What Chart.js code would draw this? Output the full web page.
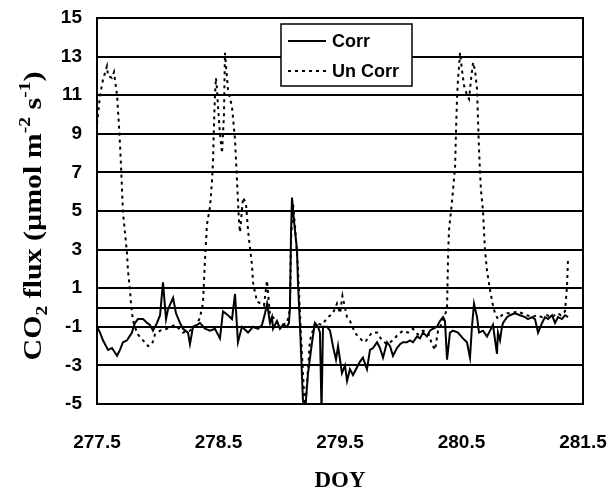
<!DOCTYPE html>
<html>
<head>
<meta charset="utf-8">
<script src="https://cdn.jsdelivr.net/npm/chart.js@4.4.0/dist/chart.umd.min.js"></script>
<style>
  html, body { margin: 0; padding: 0; background: #fff; }
  #wrap { width: 611px; height: 490px; }
</style>
</head>
<body>
<div id="wrap"><canvas id="fluxChart" width="611" height="490"></canvas></div>
<script>
// Corrected vs uncorrected CO2 flux, DOY 277.5 - 281.5

const seriesLabels = ['Corr', 'Un Corr'];

const xTicks = [277.5, 278.5, 279.5, 280.5, 281.5];
const yTicks = [-5, -3, -1, 1, 3, 5, 7, 9, 11, 13, 15];

// corrected flux
const corrDoy = [
  277.500, 277.525, 277.549, 277.591, 277.623, 277.665, 277.689, 277.714, 277.747, 277.788,
  277.796, 277.813, 277.837, 277.879, 277.912, 277.936, 277.961, 277.994, 278.019, 278.043,
  278.068, 278.084, 278.126, 278.150, 278.183, 278.208, 278.249, 278.265, 278.290, 278.323,
  278.348, 278.389, 278.430, 278.471, 278.512, 278.537, 278.578, 278.611, 278.636, 278.660,
  278.693, 278.743, 278.784, 278.825, 278.858, 278.883, 278.900, 278.924, 278.940, 278.949,
  278.981, 279.006, 279.031, 279.064, 279.080, 279.088, 279.097, 279.105, 279.121, 279.146,
  279.154, 279.171, 279.195, 279.212, 279.237, 279.270, 279.294, 279.319, 279.335, 279.348,
  279.360, 279.393, 279.418, 279.442, 279.467, 279.484, 279.516, 279.541, 279.558, 279.582,
  279.607, 279.640, 279.665, 279.689, 279.722, 279.747, 279.772, 279.805, 279.829, 279.854,
  279.887, 279.912, 279.936, 279.969, 279.994, 280.019, 280.051, 280.076, 280.101, 280.134,
  280.158, 280.183, 280.216, 280.241, 280.265, 280.298, 280.323, 280.348, 280.364, 280.381,
  280.405, 280.430, 280.471, 280.512, 280.545, 280.570, 280.586, 280.603, 280.628, 280.644,
  280.677, 280.710, 280.735, 280.759, 280.792, 280.800, 280.817, 280.833, 280.842, 280.874,
  280.899, 280.940, 280.981, 281.023, 281.047, 281.080, 281.105, 281.130, 281.163, 281.187,
  281.212, 281.245, 281.270, 281.294, 281.327, 281.352, 281.377
];
const corrFlux = [
  -1.0, -1.3, -1.7, -2.2, -2.1, -2.5, -2.2, -1.8, -1.7, -1.3,
  -1.1, -0.8, -0.6, -0.6, -0.8, -0.9, -1.2, -0.8, -0.4, 1.3,
  -0.6, -0.1, 0.5, -0.3, -0.8, -1.1, -1.3, -1.9, -1.0, -0.9,
  -0.8, -1.1, -1.2, -1.1, -1.6, -0.2, -0.4, -0.6, 0.7, -1.8,
  -1.0, -1.3, -1.0, -1.1, -0.9, -0.3, 0.2, -0.8, -0.5, -1.1,
  -0.7, -1.1, -0.9, -1.0, -0.8, 0.0, 3.9, 5.7, 4.5, 3.0,
  1.3, -1.0, -4.8, -5.4, -3.4, -1.8, -0.8, -1.0, -1.3, -5.4,
  -1.0, -1.0, -1.2, -2.0, -2.7, -2.0, -3.4, -3.0, -3.8, -3.2,
  -3.5, -3.1, -2.8, -2.6, -3.2, -2.2, -2.1, -1.8, -2.1, -2.6,
  -1.8, -2.0, -2.5, -2.1, -1.9, -1.8, -1.8, -1.7, -1.8, -1.5,
  -1.6, -1.3, -1.5, -1.2, -1.1, -1.0, -0.7, -0.5, -0.7, -2.7,
  -1.3, -1.2, -1.3, -1.6, -1.8, -2.6, -1.0, 0.2, -0.5, -1.3,
  -1.2, -1.5, -1.2, -0.9, -2.4, -1.3, -1.7, -1.0, -0.8, -0.5,
  -0.4, -0.3, -0.4, -0.5, -0.6, -0.5, -0.6, -1.3, -0.8, -0.5,
  -0.6, -0.4, -0.8, -0.5, -0.6, -0.4, -0.5
];

// uncorrected flux
const uncorrDoy = [
  277.500, 277.525, 277.549, 277.582, 277.591, 277.623, 277.640, 277.648, 277.665, 277.673,
  277.681, 277.689, 277.698, 277.706, 277.714, 277.730, 277.747, 277.755, 277.772, 277.780,
  277.788, 277.805, 277.837, 277.879, 277.920, 277.953, 277.977, 278.019, 278.076, 278.142,
  278.208, 278.265, 278.323, 278.348, 278.372, 278.389, 278.405, 278.430, 278.447, 278.455,
  278.463, 278.471, 278.479, 278.488, 278.496, 278.512, 278.529, 278.545, 278.553, 278.562,
  278.578, 278.611, 278.636, 278.652, 278.669, 278.677, 278.702, 278.726, 278.743, 278.759,
  278.776, 278.784, 278.800, 278.817, 278.850, 278.874, 278.899, 278.924, 278.949, 278.981,
  279.023, 279.064, 279.088, 279.097, 279.113, 279.130, 279.154, 279.179, 279.212, 279.253,
  279.294, 279.352, 279.401, 279.442, 279.475, 279.500, 279.520, 279.558, 279.582, 279.623,
  279.648, 279.681, 279.706, 279.739, 279.763, 279.805, 279.846, 279.887, 279.936, 279.977,
  280.019, 280.060, 280.101, 280.142, 280.183, 280.224, 280.257, 280.282, 280.307, 280.340,
  280.364, 280.381, 280.389, 280.397, 280.422, 280.447, 280.455, 280.463, 280.471, 280.488,
  280.504, 280.521, 280.545, 280.562, 280.578, 280.595, 280.611, 280.628, 280.636, 280.644,
  280.652, 280.660, 280.677, 280.693, 280.710, 280.735, 280.759, 280.776, 280.800, 280.833,
  280.874, 280.916, 280.957, 280.998, 281.039, 281.080, 281.121, 281.163, 281.204, 281.245,
  281.286, 281.319, 281.352, 281.360, 281.369, 281.377
];
const uncorrFlux = [
  9.5, 11.0, 11.8, 12.5, 12.0, 11.9, 12.2, 11.8, 11.0, 10.2,
  9.4, 8.5, 7.3, 6.1, 4.9, 3.9, 2.8, 1.9, 0.9, 0.2,
  -0.3, -0.9, -1.4, -1.7, -2.0, -1.9, -1.4, -1.2, -1.1, -0.9,
  -1.3, -1.2, -0.9, -0.5, 0.2, 2.5, 4.3, 5.2, 6.6, 7.6,
  9.5, 11.0, 11.9, 11.3, 10.4, 9.0, 8.0, 10.0, 13.2, 12.5,
  11.3, 10.4, 8.7, 6.6, 4.4, 3.9, 5.7, 5.4, 4.0, 3.1,
  2.2, 1.3, 0.8, 0.3, 0.2, 0.1, 1.4, -0.4, -0.5, -0.8,
  -0.9, -0.8, -0.1, 3.5, 5.4, 4.2, 2.0, -1.5, -5.4, -1.7,
  -0.8, -0.9, -0.5, -0.3, 0.2, -0.3, 0.6, -0.5, -0.7, -1.3,
  -1.5, -1.7, -1.8, -1.5, -1.3, -1.3, -1.7, -1.9, -1.7, -1.4,
  -1.2, -1.3, -1.1, -1.4, -1.2, -1.3, -1.9, -2.2, -1.2, -0.8,
  -0.4, 0.0, 2.5, 4.0, 5.5, 7.3, 9.2, 10.8, 11.8, 13.2,
  12.3, 11.5, 11.0, 10.8, 11.8, 12.7, 12.3, 11.3, 9.7, 8.2,
  7.1, 6.1, 5.0, 3.0, 1.9, 0.9, 0.1, -0.3, -0.6, -0.4,
  -0.3, -0.3, -0.2, -0.3, -0.4, -0.5, -0.4, -0.5, -0.4, -0.5,
  -0.3, -0.4, -0.2, 0.4, 1.2, 2.6
];

function toPoints(xs, ys) {
  return xs.map((x, i) => ({ x: x, y: ys[i] }));
}

const tickFont = { family: "'Liberation Sans', Arial, sans-serif", size: 19, weight: 'bold' };
const titleFamily = "'Liberation Serif', 'Times New Roman', serif";

// box round the plot area
const frameBox = {
  id: 'frameBox',
  afterDraw(chart) {
    const a = chart.chartArea;
    const ctx = chart.ctx;
    ctx.save();
    ctx.strokeStyle = '#000';
    ctx.lineWidth = 2;
    ctx.strokeRect(a.left, a.top, a.right - a.left, a.bottom - a.top);
    ctx.restore();
  }
};

// legend box inside the plot, top middle
const boxLegend = {
  id: 'boxLegend',
  afterDraw(chart) {
    const a = chart.chartArea;
    const ctx = chart.ctx;
    const left = a.left + 184, top = a.top + 6, w = 131, h = 62;
    ctx.save();
    ctx.fillStyle = '#fff';
    ctx.fillRect(left, top, w, h);
    ctx.strokeStyle = '#000';
    ctx.lineWidth = 1.5;
    ctx.strokeRect(left, top, w, h);
    ctx.font = 'bold 18px ' + tickFont.family;
    ctx.textBaseline = 'middle';
    ctx.fillStyle = '#000';
    chart.data.datasets.forEach((ds, i) => {
      const y = top + 17 + i * 30;
      ctx.beginPath();
      ctx.setLineDash(ds.borderDash || []);
      ctx.lineWidth = ds.borderWidth;
      ctx.strokeStyle = ds.borderColor;
      ctx.moveTo(left + 7, y);
      ctx.lineTo(left + 45, y);
      ctx.stroke();
      ctx.setLineDash([]);
      ctx.fillText(ds.label, left + 51, y + 1);
    });
    ctx.restore();
  }
};

// rotated y title with subscript and superscripts
const yTitle = {
  id: 'yTitle',
  afterDraw(chart) {
    const a = chart.chartArea;
    const ctx = chart.ctx;
    const parts = [
      { t: 'CO' }, { t: '2', sub: true }, { t: ' flux (\u00b5mol m' },
      { t: '-2', sup: true }, { t: ' s' }, { t: '-1', sup: true }, { t: ')' }
    ];
    const big = 'bold 26px ' + titleFamily;
    const small = 'bold 17px ' + titleFamily;
    const stretch = 1.15;
    ctx.save();
    let total = 0;
    parts.forEach(p => {
      ctx.font = (p.sub || p.sup) ? small : big;
      p.w = ctx.measureText(p.t).width;
      total += p.w;
    });
    ctx.translate(41, 216);
    ctx.rotate(-Math.PI / 2);
    ctx.scale(stretch, 1);
    ctx.fillStyle = '#000';
    ctx.textBaseline = 'alphabetic';
    let x = -total / 2;
    parts.forEach(p => {
      ctx.font = (p.sub || p.sup) ? small : big;
      const dy = p.sub ? 6 : (p.sup ? -11 : 0);
      ctx.fillText(p.t, x, dy);
      x += p.w;
    });
    ctx.restore();
  }
};

new Chart(document.getElementById('fluxChart'), {
  type: 'line',
  data: {
    datasets: [
      {
        label: seriesLabels[0],
        data: toPoints(corrDoy, corrFlux),
        borderColor: '#000',
        borderWidth: 2,
        pointRadius: 0,
        tension: 0,
        fill: false
      },
      {
        label: seriesLabels[1],
        data: toPoints(uncorrDoy, uncorrFlux),
        borderColor: '#000',
        borderWidth: 2,
        borderDash: [3, 4],
        pointRadius: 0,
        tension: 0,
        fill: false
      }
    ]
  },
  options: {
    responsive: false,
    animation: false,
    layout: { padding: { top: 18, right: 28, left: 0, bottom: 0 } },
    plugins: {
      legend: { display: false },
      tooltip: { enabled: false }
    },
    scales: {
      x: {
        type: 'linear',
        min: xTicks[0],
        max: xTicks[xTicks.length - 1],
        afterBuildTicks: (scale) => { scale.ticks = xTicks.map(v => ({ value: v })); },
        afterFit: (scale) => {
          scale.height = 86;
          scale.paddingLeft = 0;
          scale.paddingRight = 0;
        },
        grid: { display: false, drawTicks: false },
        border: { display: false },
        ticks: {
          font: tickFont,
          color: '#000',
          padding: 27,
          maxRotation: 0,
          callback: (v) => Number(v).toFixed(1)
        },
        title: {
          display: true,
          text: 'DOY',
          color: '#000',
          font: { family: titleFamily, size: 23, weight: 'bold', lineHeight: 1 },
          padding: { top: 0, bottom: -3 }
        }
      },
      y: {
        min: yTicks[0],
        max: yTicks[yTicks.length - 1],
        // zero line is drawn as an extra gridline without a label
        afterBuildTicks: (scale) => {
          scale.ticks = yTicks.concat([0]).sort((p, q) => p - q).map(v => ({ value: v }));
        },
        afterFit: (scale) => {
          scale.width = 97;
          scale.paddingTop = 0;
          scale.paddingBottom = 0;
        },
        grid: { color: '#000', lineWidth: 2, drawTicks: false },
        border: { display: false },
        ticks: {
          font: tickFont,
          color: '#000',
          padding: 15,
          callback: (v) => (v === 0 ? '' : v)
        }
      }
    }
  },
  plugins: [frameBox, boxLegend, yTitle]
});
</script>
</body>
</html>
